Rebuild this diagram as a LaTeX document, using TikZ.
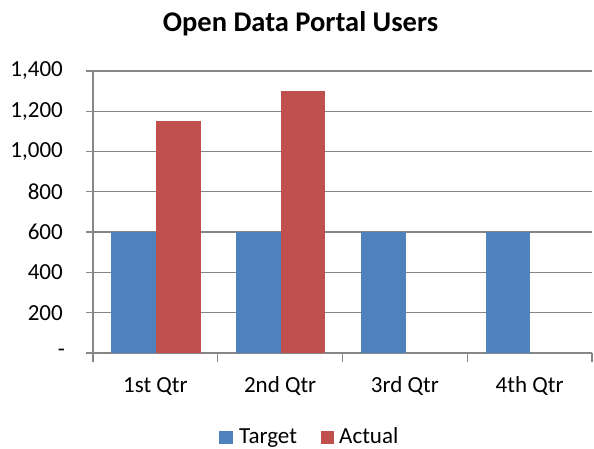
\documentclass[tikz,border=0pt]{standalone}
\usepackage{fontspec}
\setmainfont{Carlito}

\begin{document}
\begin{tikzpicture}[
  x=1pt, y=1pt,
  gridline/.style={line width=1.3pt, draw=gridgray},
  tickmark/.style={line width=1.3pt, draw=gridgray},
  targetbar/.style={fill=targetblue},
  actualbar/.style={fill=actualred},
  ticklabel/.style={font=\fontsize{23}{27}\selectfont, inner sep=0pt, text=black},
  charttitle/.style={font=\fontsize{28.5}{33}\selectfont\bfseries, inner sep=0pt, text=black}
]

\definecolor{gridgray}{RGB}{134,134,134}
\definecolor{targetblue}{RGB}{79,129,189}
\definecolor{actualred}{RGB}{192,80,77}

\useasboundingbox (0,0) rectangle (594,449);
\fill[white] (0,0) rectangle (594,449);

\node[charttitle, anchor=base] (title) at (300.5,417.5) {Open Data Portal Users};

% grid and value axis
\foreach \v in {200,400,...,1400}
  \draw[gridline] (93,{96+0.20143*\v}) -- (592,{96+0.20143*\v});
\foreach \v in {0,200,...,1400}
  \draw[tickmark] (86,{96+0.20143*\v}) -- (93,{96+0.20143*\v});
\draw[tickmark] (93,96) -- (93,378);
\draw[tickmark] (93,96) -- (592,96);
\foreach \i in {0,...,4}
  \draw[tickmark] ({93+124.75*\i},96) -- ({93+124.75*\i},87);

\foreach \v/\t in {200/200, 400/400, 600/600, 800/800,
                   1000/{1,000}, 1200/{1,200}, 1400/{1,400}}
  \node[ticklabel, anchor=east] (val\v) at (63,{96+0.20143*\v}) {\t};
\node[ticklabel, anchor=east] (val0) at (65,96) {-};

% bars
\foreach \i in {0,...,3}
  \fill[targetbar] ({111.4+124.75*\i},96) rectangle ({156.2+124.75*\i},{96+0.20143*600});
\foreach \i/\v in {0/1150, 1/1300}
  \fill[actualbar] ({156.2+124.75*\i},96) rectangle ({200.6+124.75*\i},{96+0.20143*\v});

\foreach \i/\t in {0/1st Qtr, 1/2nd Qtr, 2/3rd Qtr, 3/4th Qtr}
  \node[ticklabel, anchor=base] (cat\i) at ({155.4+124.75*\i},56.3) {\t};

% legend
\fill[targetblue] (219,5) rectangle (233,18.3);
\node[ticklabel, anchor=base west] (legtarget) at (239,5) {Target};
\fill[actualred] (321,5) rectangle (334,18.3);
\node[ticklabel, anchor=base west] (legactual) at (339,5) {Actual};

\end{tikzpicture}
\end{document}
